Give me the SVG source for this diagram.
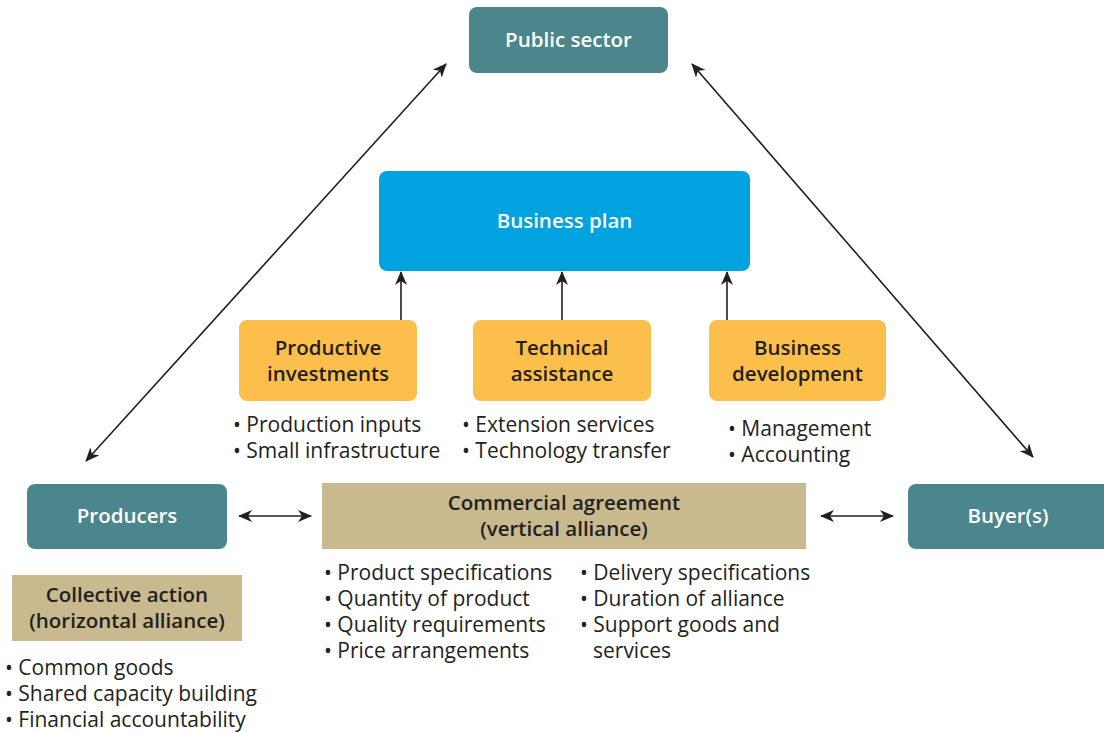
<svg xmlns="http://www.w3.org/2000/svg" width="1104" height="732" viewBox="0 0 1104 732">
<defs>
<style>
.teal{fill:#4a868c}
.blue{fill:#00a3e0}
.orange{fill:#fdbf4b}
.tan{fill:#c8b98e}
.wt{font-family:"Open Sans",Lato,sans-serif;font-weight:600;font-size:20.5px;fill:#ffffff;text-anchor:middle}
.dt{font-family:"Open Sans",Lato,sans-serif;font-weight:600;font-size:20.5px;fill:#231f20;text-anchor:middle}
.bt{font-family:"Open Sans",Lato,sans-serif;font-size:21px;fill:#231f20}
.ln{stroke:#231f20;stroke-width:1.6;fill:none}
</style>
<marker id="ah" viewBox="0 0 14 12" refX="13" refY="6" markerWidth="14" markerHeight="12" markerUnits="userSpaceOnUse" orient="auto-start-reverse">
<path d="M0,0 L14,6 L0,12 L4,6 Z" fill="#231f20"/>
</marker>
</defs>
<g id="connectors">
<line class="ln" x1="86" y1="461" x2="446" y2="64" marker-start="url(#ah)" marker-end="url(#ah)"/>
<line class="ln" x1="692" y1="64" x2="1033" y2="457" marker-start="url(#ah)" marker-end="url(#ah)"/>
<line class="ln" x1="401" y1="320" x2="401" y2="272" marker-end="url(#ah)"/>
<line class="ln" x1="562" y1="320" x2="562" y2="272" marker-end="url(#ah)"/>
<line class="ln" x1="727" y1="320" x2="727" y2="272" marker-end="url(#ah)"/>
<line class="ln" x1="239" y1="516" x2="311" y2="516" marker-start="url(#ah)" marker-end="url(#ah)"/>
<line class="ln" x1="821" y1="516" x2="893" y2="516" marker-start="url(#ah)" marker-end="url(#ah)"/>
</g>
<g id="public-sector">
<rect class="teal" x="469" y="7" width="199" height="66" rx="8"/>
<text class="wt" x="568.5" y="47">Public sector</text>
</g>
<g id="business-plan">
<rect class="blue" x="379" y="171" width="371" height="100" rx="8"/>
<text class="wt" x="564.5" y="228">Business plan</text>
</g>
<g id="productive-investments">
<rect class="orange" x="239" y="320" width="178" height="81" rx="8"/>
<text class="dt" x="328" y="355">Productive</text>
<text class="dt" x="328" y="381">investments</text>
<text class="bt" x="233" y="432">• Production inputs</text>
<text class="bt" x="233" y="458">• Small infrastructure</text>
</g>
<g id="technical-assistance">
<rect class="orange" x="473" y="320" width="178" height="81" rx="8"/>
<text class="dt" x="562" y="355">Technical</text>
<text class="dt" x="562" y="381">assistance</text>
<text class="bt" x="462" y="432">• Extension services</text>
<text class="bt" x="462" y="458">• Technology transfer</text>
</g>
<g id="business-development">
<rect class="orange" x="709" y="320" width="177" height="81" rx="8"/>
<text class="dt" x="797.5" y="355">Business</text>
<text class="dt" x="797.5" y="381">development</text>
<text class="bt" x="728" y="436">• Management</text>
<text class="bt" x="728" y="462">• Accounting</text>
</g>
<g id="producers">
<rect class="teal" x="27" y="484" width="200" height="65" rx="8"/>
<text class="wt" x="127" y="523">Producers</text>
</g>
<g id="commercial-agreement">
<rect class="tan" x="322" y="483" width="484" height="66"/>
<text class="dt" x="564" y="510">Commercial agreement</text>
<text class="dt" x="564" y="536">(vertical alliance)</text>
<text class="bt" x="324" y="580">• Product specifications</text>
<text class="bt" x="324" y="606">• Quantity of product</text>
<text class="bt" x="324" y="632">• Quality requirements</text>
<text class="bt" x="324" y="658">• Price arrangements</text>
<text class="bt" x="580" y="580">• Delivery specifications</text>
<text class="bt" x="580" y="606">• Duration of alliance</text>
<text class="bt" x="580" y="632">• Support goods and</text>
<text class="bt" x="593" y="658">services</text>
</g>
<g id="buyers">
<rect class="teal" x="908" y="484" width="204" height="65" rx="8"/>
<text class="wt" x="1008" y="523">Buyer(s)</text>
</g>
<g id="collective-action">
<rect class="tan" x="12" y="575" width="230" height="66"/>
<text class="dt" x="127" y="602">Collective action</text>
<text class="dt" x="127" y="628">(horizontal alliance)</text>
<text class="bt" x="5" y="675">• Common goods</text>
<text class="bt" x="5" y="701">• Shared capacity building</text>
<text class="bt" x="5" y="727">• Financial accountability</text>
</g>
</svg>
